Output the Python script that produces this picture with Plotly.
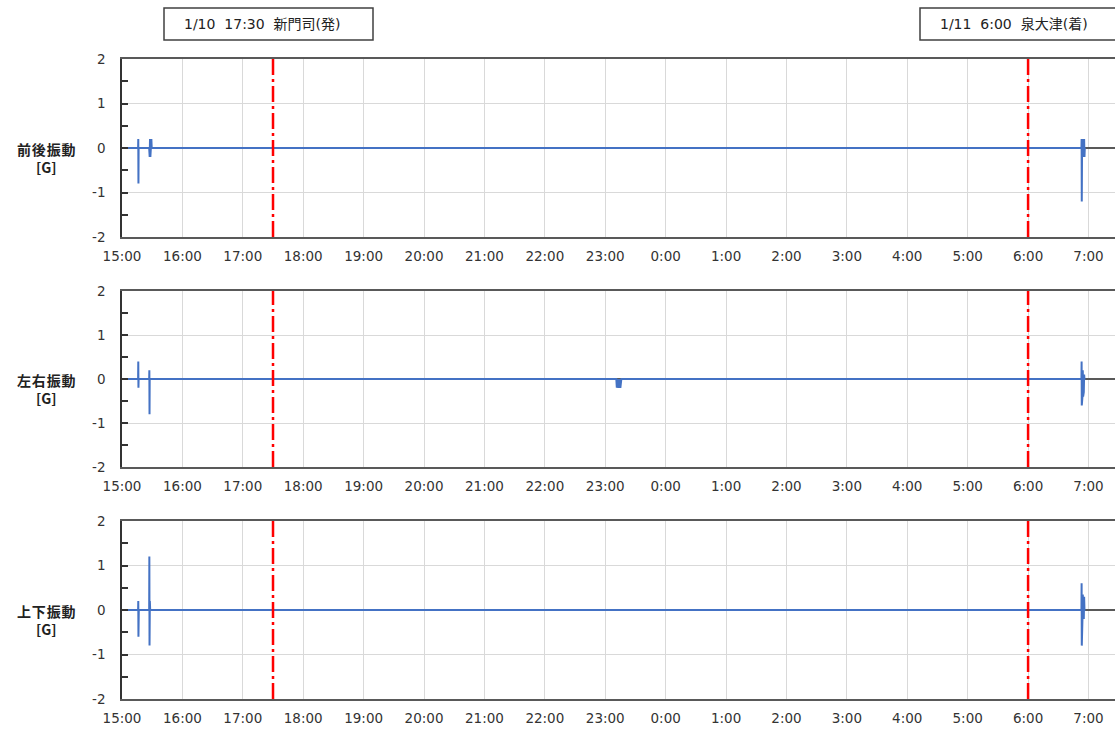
import plotly.graph_objects as go

# --- vibration records (time, acceleration in G) ---
D1 = "2024-01-10 "
D2 = "2024-01-11 "

fb_time = [D1 + "15:00:00", D1 + "15:16:00", D1 + "15:16:10", D1 + "15:16:20", D1 + "15:16:30",
           D1 + "15:27:00", D1 + "15:27:10", D1 + "15:27:30", D1 + "15:27:50", D1 + "15:28:10",
           D1 + "15:28:30", D1 + "15:28:50", D1 + "15:29:10", D1 + "15:29:30",
           D2 + "06:53:00", D2 + "06:53:10", D2 + "06:53:20", D2 + "06:53:40", D2 + "06:54:00",
           D2 + "06:54:20", D2 + "06:54:40", D2 + "06:55:00", D2 + "06:55:20", D2 + "06:55:40",
           D2 + "06:56:00", D2 + "06:56:20", D2 + "06:57:00"]
fb_val = [0, 0, 0.2, -0.8, 0,
          0, 0.2, -0.2, 0.2, -0.2,
          0.2, -0.2, 0.2, 0,
          0, 0.2, -1.2, 0.2, -0.2,
          0.2, -0.2, 0.2, -0.2, 0.2,
          -0.2, 0, 0]

lr_time = [D1 + "15:00:00", D1 + "15:16:00", D1 + "15:16:10", D1 + "15:16:20", D1 + "15:16:30",
           D1 + "15:27:00", D1 + "15:27:10", D1 + "15:27:20", D1 + "15:27:30",
           D1 + "23:11:00", D1 + "23:11:30", D1 + "23:12:00", D1 + "23:13:00", D1 + "23:14:00",
           D1 + "23:15:00", D1 + "23:16:00", D1 + "23:17:00",
           D2 + "06:53:00", D2 + "06:53:10", D2 + "06:53:20", D2 + "06:53:40", D2 + "06:54:00",
           D2 + "06:54:20", D2 + "06:54:40", D2 + "06:55:00", D2 + "06:55:20", D2 + "06:55:40",
           D2 + "06:56:00", D2 + "06:57:00"]
lr_val = [0, 0, 0.4, -0.2, 0,
          0, 0.2, -0.8, 0,
          0, -0.2, 0, -0.2, 0,
          -0.2, 0, 0,
          0, 0.4, -0.6, 0.2, -0.4,
          0.2, -0.4, 0.2, -0.3, 0.1,
          0, 0]

ud_time = [D1 + "15:00:00", D1 + "15:16:00", D1 + "15:16:10", D1 + "15:16:20", D1 + "15:16:30",
           D1 + "15:16:40", D1 + "15:27:00", D1 + "15:27:10", D1 + "15:27:20", D1 + "15:27:40",
           D1 + "15:28:00", D1 + "15:28:20",
           D2 + "06:53:00", D2 + "06:53:10", D2 + "06:53:20", D2 + "06:53:40", D2 + "06:54:00",
           D2 + "06:54:20", D2 + "06:54:40", D2 + "06:55:00", D2 + "06:55:20", D2 + "06:55:40",
           D2 + "06:56:00", D2 + "06:57:00"]
ud_val = [0, 0, 0.2, -0.6, 0.2, 0,
          0, 1.2, -0.8, 0.2, 0, 0,
          0, 0.6, -0.8, 0.35, -0.2,
          0.35, -0.2, 0.35, -0.2, 0.3,
          0, 0]

HS = "\u200a"
panel_titles = [HS.join("前後振動") + "<br>[G]",
                HS.join("左右振動") + "<br>[G]",
                HS.join("上下振動") + "<br>[G]"]
series_time = [fb_time, lr_time, ud_time]
series_val = [fb_val, lr_val, ud_val]

y_ticks = [-2, -1, 0, 1, 2]
y_tick_text = ["-2", "-1", "0", "1", "2"]
departure = D1 + "17:30:00"
arrival = D2 + "06:00:00"
events = [departure, arrival]
SP = "\u00a0\u00a0"
event_labels = [f"1/10{SP}17:30{SP}新門司(発)", f"1/11{SP}6:00{SP}泉大津(着)"]

x_start = D1 + "15:00:00"
x_end = D2 + "07:26:20"

# --- layout geometry (figure pixels) ---
W, H = 1115, 731
panel_px = [(59, 237), (291, 467), (521, 699)]
FONT = "DejaVu Sans, Noto Sans CJK JP"
TXT = "#333333"

fig = go.Figure()
layout = dict(
    width=W, height=H,
    margin=dict(l=0, r=0, t=0, b=0),
    paper_bgcolor="white", plot_bgcolor="white",
    showlegend=False,
    font=dict(family=FONT, size=13, color=TXT),
)

shapes = []
annotations = []
for i, (t, v) in enumerate(zip(series_time, series_val)):
    n = "" if i == 0 else str(i + 1)
    xa = "x" + n
    ya = "y" + n
    fig.add_trace(go.Scatter(x=t, y=v, mode="lines", xaxis=xa, yaxis=ya,
                             line=dict(color="#4472C4", width=2), hoverinfo="skip"))
    top, bot = panel_px[i]
    layout["xaxis" + n] = dict(
        domain=[122 / W, 1], anchor=ya, type="date", automargin=False,
        range=[x_start, x_end],
        dtick=3600000, tick0=x_start, tickformat="%-H:%M",
        showgrid=True, gridcolor="#D9D9D9", gridwidth=1,
        showline=True, linecolor="#595959", linewidth=1.5, mirror=True,
        ticks="", ticklabelstandoff=6,
        tickfont=dict(family=FONT, size=13.5, color=TXT),
    )
    layout["yaxis" + n] = dict(
        domain=[1 - bot / H, 1 - top / H], anchor=xa, automargin=False,
        range=[-2, 2], tickvals=y_ticks, ticktext=y_tick_text,
        showgrid=True, gridcolor="#D9D9D9", gridwidth=1,
        zeroline=True, zerolinecolor="#595959", zerolinewidth=1.5,
        showline=True, linecolor="#333333", linewidth=1.5,
        ticks="inside", ticklen=6, tickcolor="#333333", tickwidth=1.5,
        minor=dict(ticks="inside", dtick=0.5, ticklen=6, tickcolor="#333333", tickwidth=1.5, showgrid=False),
        ticklabelstandoff=12,
        tickfont=dict(family=FONT, size=13.5, color=TXT),
    )
    for ev in events:
        shapes.append(dict(type="line", xref=xa, yref=ya + " domain",
                           x0=ev, x1=ev, y0=0, y1=1,
                           line=dict(color="#FF0000", width=2.5, dash="16px,4px,3px,4px")))
    center = {0: 158, 1: 389, 2: 620}[i]
    annotations.append(dict(text=panel_titles[i], xref="paper", yref="paper",
                            x=46 / W, y=1 - center / H, xanchor="center", yanchor="middle",
                            showarrow=False, align="center",
                            font=dict(family="Noto Sans CJK JP", size=14, color="#222222", weight="bold")))

# event boxes above the top panel
boxes = [(164, 373, 262), (920, 1129, 1014)]
for (x0, x1, xc), label in zip(boxes, event_labels):
    shapes.append(dict(type="rect", xref="paper", yref="paper",
                       x0=x0 / W, x1=x1 / W, y0=1 - 40 / H, y1=1 - 8 / H,
                       line=dict(color="#404040", width=1.5), fillcolor="white"))
    annotations.append(dict(text=label, xref="paper", yref="paper",
                            x=xc / W, y=1 - 24 / H, xanchor="center", yanchor="middle",
                            showarrow=False,
                            font=dict(family=FONT, size=14, color="#222222")))

layout["shapes"] = shapes
layout["annotations"] = annotations
fig.update_layout(**layout)
fig.write_html("out.html")
